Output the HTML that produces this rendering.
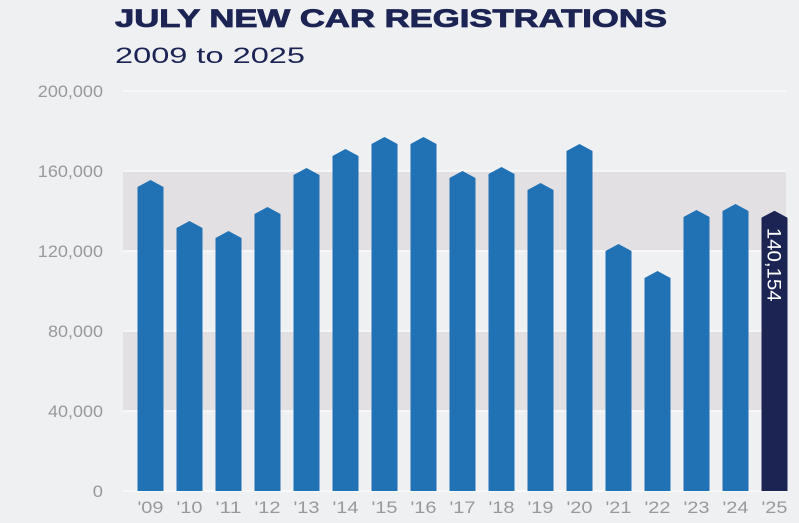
<!DOCTYPE html>
<html><head><meta charset="utf-8"><style>
body{margin:0;background:#eff0f2;}
svg{display:block;font-family:"Liberation Sans",sans-serif;}
</style></head><body>
<svg width="799" height="523" viewBox="0 0 799 523">
<rect width="799" height="523" fill="#eff0f2"/>
<text x="115" y="27" font-size="25" font-weight="bold" fill="#1c2454" textLength="552" lengthAdjust="spacingAndGlyphs" stroke="#1c2454" stroke-width="0.8">JULY NEW CAR REGISTRATIONS</text>
<text x="115" y="63" font-size="22" fill="#1c2454" textLength="190" lengthAdjust="spacingAndGlyphs">2009 to 2025</text>
<g id="grid"></g>
<g id="bars"></g>
<g id="labels"></g>
</svg>
<script>
const categories=["'09","'10","'11","'12","'13","'14","'15","'16","'17","'18","'19","'20","'21","'22","'23","'24","'25"];
const values=[155500,135000,130000,142000,161500,171000,177000,177000,160000,162000,154000,173500,123500,110000,140500,143500,140154];
const yTicks=[0,40000,80000,120000,160000,200000];
const yTickLabels=["0","40,000","80,000","120,000","160,000","200,000"];
const highlightLabel="140,154";
const NS="http://www.w3.org/2000/svg";
const y0=491,yTop=91,yMax=200000,x0=150.5,step=39,bw=26,left=123,right=786;
const y=v=>y0-(v/yMax)*(y0-yTop);
const x=i=>x0+i*step;
function mk(t,a,p){const e=document.createElementNS(NS,t);for(const k in a)e.setAttribute(k,a[k]);p.appendChild(e);return e;}
const grid=document.getElementById('grid'),bars=document.getElementById('bars'),labels=document.getElementById('labels');
for(let i=0;i<yTicks.length-1;i++){
  if(i%2===1){
    const b=mk('rect',{x:left,y:y(yTicks[i+1]),width:right-left,height:y(yTicks[i])-y(yTicks[i+1]),fill:'#e2e0e2'},grid);
    
    
  }
}
yTicks.forEach((t,i)=>{
  const l=mk('line',{x1:left,x2:right,y1:y(t),y2:y(t),stroke:'#fafafa','stroke-width':1.5},grid);
  
  
  const s=yTickLabels[i];
  const len=s.replace(/,/g,'').length*10.2+(s.split(',').length-1)*4;
  const tx=mk('text',{x:103-len,y:y(t)+6,'font-size':17,fill:'#999',textLength:len,lengthAdjust:'spacingAndGlyphs'},labels);
  tx.textContent=s;
  
  
});
values.forEach((v,i)=>{
  const cx=x(i),top=y(v),l=cx-bw/2,r=cx+bw/2,sh=top+7;
  const last=i===values.length-1;
  const p=mk('path',{d:`M${l},${y0}L${l},${sh}L${cx},${top}L${r},${sh}L${r},${y0}Z`,fill:last?'#1c2454':'#2171b5'},bars);
  
  
  const t=mk('text',{x:cx-13,y:513,'font-size':17,fill:'#999',textLength:26,lengthAdjust:'spacingAndGlyphs'},labels);
  t.textContent=categories[i];
  
  
  if(last){
    const vy=top+17;
    const vl=mk('text',{x:cx,y:vy,'font-size':19,fill:'#fff',textLength:74,lengthAdjust:'spacingAndGlyphs',transform:`rotate(90 ${cx} ${vy}) translate(0 7)`},labels);
    vl.textContent=highlightLabel;
    
    
  }
});
</script>
</body></html>
